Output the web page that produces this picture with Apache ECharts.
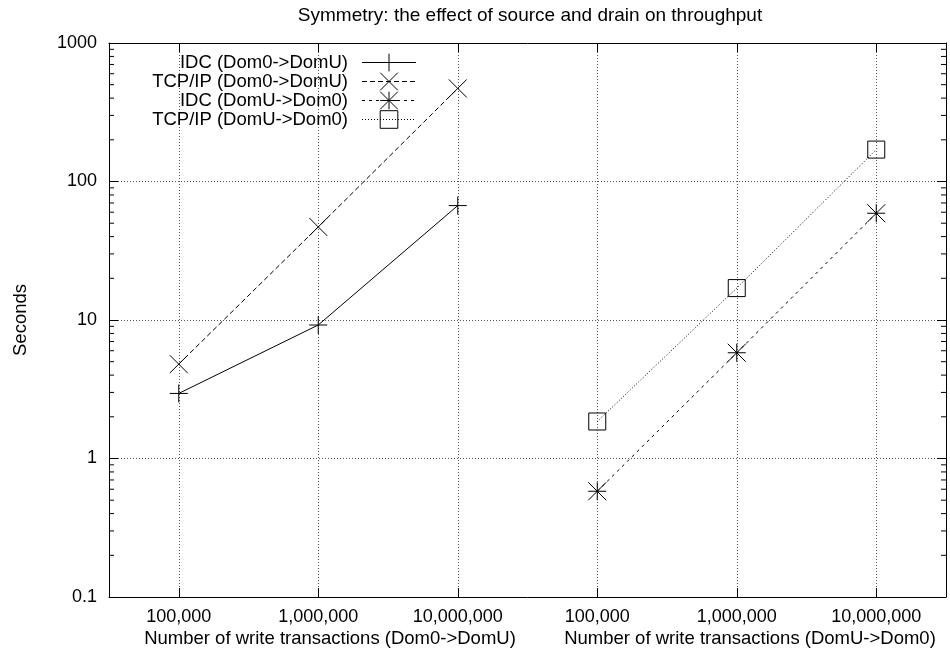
<!DOCTYPE html>
<html>
<head>
<meta charset="utf-8">
<title>Symmetry</title>
<script src="https://cdn.jsdelivr.net/npm/echarts@6/dist/echarts.min.js"></script>
<style>
  html, body { margin: 0; padding: 0; background: #fff; }
  #main { width: 950px; height: 661px; }
</style>
</head>
<body>
<div id="main"></div>
<script>
// data
var sizeLabels = ['100,000', '1,000,000', '10,000,000']
var groupNames = ['Number of write transactions (Dom0->DomU)', 'Number of write transactions (DomU->Dom0)']
var idcDom0DomU = [2.95, 9.2, 67]
var tcpDom0DomU = [4.8, 47, 470]
var idcDomUDom0 = [0.58, 5.8, 59]
var tcpDomUDom0 = [1.85, 17, 170]
var yTickLabels = ['0.1', '1', '10', '100', '1000']

var FONT = 'Liberation Sans'
var SIZE = 18.5
var TICK_SIZE = 18

// 13 half-step slots, the points sit on the odd ones
var slots = [], slotLabel = {}
for (var i = 0; i < 13; i++) {
  slots.push('s' + i)
  if (i % 2) slotLabel['s' + i] = sizeLabels[((i - 1) / 2) % 3]
}
function place(values, group) {
  var d = slots.map(function () { return null })
  values.forEach(function (v, j) { d[group * 6 + 2 * j + 1] = v })
  return d
}
function onPoint(idx) { return idx % 2 === 1 }

// minor log ticks 2..9 of each decade
var minorTicks = []
;[0.1, 1, 10, 100].forEach(function (d) {
  for (var m = 2; m <= 9; m++) minorTicks.push([slots[0], +(m * d).toPrecision(3)])
})

var plusPath = 'path://M0,5L10,5M5,0L5,10'
var crossPath = 'path://M0,0L10,10M10,0L0,10'
var starPath = 'path://M0,5L10,5M5,0L5,10M0,0L10,10M10,0L0,10'

function lineSeries(name, data, symbol, size, dash) {
  return {
    name: name,
    type: 'line',
    data: data,
    connectNulls: true,
    symbol: symbol,
    symbolSize: size,
    showAllSymbol: true,
    lineStyle: { color: '#000', width: 1, type: dash },
    itemStyle: { color: 'rgba(0,0,0,0)', borderColor: '#000', borderWidth: 1 },
    emphasis: { disabled: true },
    animation: false
  }
}

var chart = echarts.init(document.getElementById('main'))
chart.setOption({
  animation: false,
  textStyle: { fontFamily: FONT },
  title: {
    text: 'Symmetry: the effect of source and drain on throughput',
    left: 525,
    top: 1,
    textAlign: 'center',
    textStyle: { fontFamily: FONT, fontSize: 19, fontWeight: 'normal', color: '#000' }
  },
  grid: { left: 109, right: 4, top: 43, bottom: 64 },
  legend: {
    data: ['IDC (Dom0->DomU)', 'TCP/IP (Dom0->DomU)', 'IDC (DomU->Dom0)', 'TCP/IP (DomU->Dom0)'],
    orient: 'vertical',
    left: 145,
    top: 53,
    padding: 0,
    align: 'right',
    itemWidth: 54,
    itemHeight: 22,
    itemGap: 0,
    selectedMode: false,
    lineStyle: { width: 1 },
    itemStyle: { borderWidth: 1 },
    textStyle: { fontFamily: FONT, fontSize: SIZE, lineHeight: 18.5, color: '#000', width: 203, align: 'right', padding: [0, 9, 0, 0] }
  },
  graphic: groupNames.map(function (t, g) {
    return {
      type: 'text',
      style: { text: t, x: 330 + g * 420, y: 639, fontFamily: FONT, fontSize: SIZE, fill: '#000', align: 'center', verticalAlign: 'middle' }
    }
  }),
  xAxis: [{
    type: 'category',
    data: slots,
    boundaryGap: false,
    axisLine: { lineStyle: { color: '#000', width: 1 } },
    axisTick: { inside: true, length: 9, interval: onPoint, lineStyle: { color: '#000' } },
    axisLabel: {
      interval: onPoint,
      margin: 11,
      fontFamily: FONT,
      fontSize: TICK_SIZE,
      color: '#000',
      formatter: function (v) { return slotLabel[v] || '' }
    },
    splitLine: { show: true, interval: onPoint, lineStyle: { color: '#555', width: 1, type: [1, 2] } }
  }, {
    type: 'category',
    data: slots,
    position: 'top',
    boundaryGap: false,
    axisLine: { lineStyle: { color: '#000', width: 1 } },
    axisTick: { inside: true, length: 9, interval: onPoint, lineStyle: { color: '#000' } },
    axisLabel: { show: false },
    splitLine: { show: false }
  }],
  yAxis: [{
    type: 'log',
    logBase: 10,
    min: 0.1,
    max: 1000,
    name: 'Seconds',
    nameLocation: 'middle',
    nameGap: 79,
    nameRotate: 90,
    nameTextStyle: { fontFamily: FONT, fontSize: SIZE, color: '#000' },
    axisLine: { show: true, lineStyle: { color: '#000', width: 1 } },
    axisTick: { show: true, inside: true, length: 9, lineStyle: { color: '#000' } },
    axisLabel: {
      margin: 12,
      fontFamily: FONT,
      fontSize: TICK_SIZE,
      color: '#000',
      formatter: function (v) {
        var k = Math.round(Math.log10(v)) + 1
        return yTickLabels[k] || ''
      }
    },
    splitLine: { show: true, lineStyle: { color: '#555', width: 1, type: [1, 2] } }
  }, {
    type: 'log',
    logBase: 10,
    min: 0.1,
    max: 1000,
    position: 'right',
    axisLine: { show: true, lineStyle: { color: '#000', width: 1 } },
    axisTick: { show: true, inside: true, length: 9, lineStyle: { color: '#000' } },
    axisLabel: { show: false },
    splitLine: { show: false }
  }],
  series: [
    lineSeries('IDC (Dom0->DomU)', place(idcDom0DomU, 0), plusPath, 18, 'solid'),
    lineSeries('TCP/IP (Dom0->DomU)', place(tcpDom0DomU, 0), crossPath, 18, [5, 3]),
    lineSeries('IDC (DomU->Dom0)', place(idcDomUDom0, 1), starPath, 18, [3, 4]),
    lineSeries('TCP/IP (DomU->Dom0)', place(tcpDomUDom0, 1), 'rect', 17, [1, 2]),
    {
      type: 'custom',
      silent: true,
      data: minorTicks,
      renderItem: function (params, api) {
        var cs = params.coordSys
        var y = api.coord([0, api.value(1)])[1]
        var st = { stroke: '#000', lineWidth: 1 }
        return {
          type: 'group',
          children: [
            { type: 'line', shape: { x1: cs.x, y1: y, x2: cs.x + 5, y2: y }, style: st },
            { type: 'line', shape: { x1: cs.x + cs.width - 5, y1: y, x2: cs.x + cs.width, y2: y }, style: st }
          ]
        }
      }
    }
  ]
})
</script>
</body>
</html>
